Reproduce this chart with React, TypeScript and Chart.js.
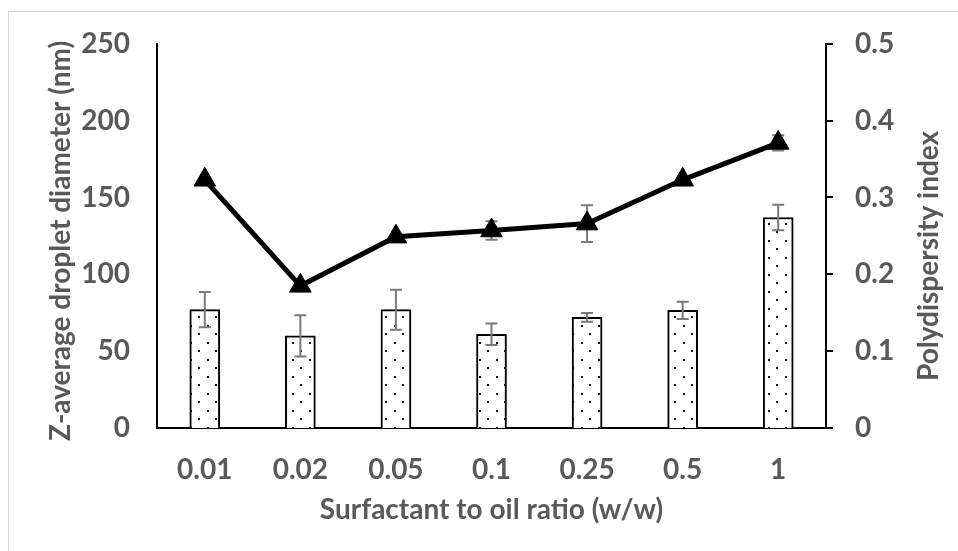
import React, { useEffect, useRef } from 'react';
import { Chart, registerables } from 'chart.js';

Chart.register(...registerables);

// ---- data ----
const categories = ['0.01', '0.02', '0.05', '0.1', '0.25', '0.5', '1'];
const dropletSize = [77, 60, 77, 61, 72, 76.5, 137];
const dropletSizeErr = [11.5, 13.4, 13, 7, 2.8, 5.6, 8.3];
const pdi = [0.323, 0.185, 0.249, 0.257, 0.266, 0.323, 0.371];
const pdiErr = [0, 0, 0, 0.012, 0.024, 0, 0.01];
const sizeAxisMax = 250;
const sizeAxisStep = 50;
const pdiAxisMax = 0.5;
const pdiAxisStep = 0.1;

const xTitle = 'Surfactant to oil ratio (w/w)';
const yTitle = 'Z-average droplet diameter (nm)';
const y1Title = 'Polydispersity index';

const TEXT_COLOR = '#595959';
const FONT_FAMILY = 'Lato';
const FONT_SIZE = 28;
const ERR_COLOR = '#7a7a7a';

function makeDotPattern(): CanvasPattern | string {
  const c = document.createElement('canvas');
  c.width = 17;
  c.height = 17;
  const g = c.getContext('2d');
  if (!g) return '#fff';
  g.fillStyle = '#ffffff';
  g.fillRect(0, 0, 17, 17);
  g.fillStyle = '#111111';
  g.fillRect(3, 2, 2, 2);
  g.fillRect(11, 10, 2, 2);
  const p = g.createPattern(c, 'repeat');
  return p || '#fff';
}

function drawErrors(chart: any, meta: any, values: number[], errs: number[], scaleId: string) {
  const ctx = chart.ctx;
  const scale = chart.scales[scaleId];
  ctx.save();
  ctx.strokeStyle = ERR_COLOR;
  ctx.lineWidth = 2;
  const cap = 6;
  meta.data.forEach((el: any, i: number) => {
    const e = errs[i];
    if (!e) return;
    const x = el.x;
    const yt = scale.getPixelForValue(values[i] + e);
    const yb = scale.getPixelForValue(values[i] - e);
    ctx.beginPath();
    ctx.moveTo(x, yt);
    ctx.lineTo(x, yb);
    ctx.moveTo(x - cap, yt);
    ctx.lineTo(x + cap, yt);
    ctx.moveTo(x - cap, yb);
    ctx.lineTo(x + cap, yb);
    ctx.stroke();
  });
  ctx.restore();
}

const errorBarPlugin = {
  id: 'errorBars',
  beforeDatasetDraw(chart: any, args: any) {
    if (args.index === 0) drawErrors(chart, args.meta, pdi, pdiErr, 'y1');
  },
  afterDatasetDraw(chart: any, args: any) {
    if (args.index === 1) drawErrors(chart, args.meta, dropletSize, dropletSizeErr, 'y');
  },
};

const titlePlugin = {
  id: 'axisTitles',
  afterDraw(chart: any) {
    const { ctx, chartArea } = chart;
    const { left, right, top, bottom } = chartArea;
    ctx.save();
    ctx.fillStyle = TEXT_COLOR;
    ctx.font = `bold ${FONT_SIZE}px ${FONT_FAMILY}`;
    ctx.textAlign = 'center';
    ctx.textBaseline = 'alphabetic';
    ctx.fillText(xTitle, (left + right) / 2, bottom + 91);

    const midY = (top + bottom) / 2;
    ctx.save();
    ctx.translate(left - 87, midY + 5);
    ctx.rotate(-Math.PI / 2);
    ctx.fillText(yTitle, 0, 0);
    ctx.restore();

    ctx.save();
    ctx.translate(right + 112, midY + 20);
    ctx.rotate(-Math.PI / 2);
    ctx.fillText(y1Title, 0, 0);
    ctx.restore();
    ctx.restore();
  },
};

export default function App() {
  const ref = useRef<HTMLCanvasElement | null>(null);

  useEffect(() => {
    if (!ref.current) return;
    const pattern = makeDotPattern();
    const font = { family: FONT_FAMILY, size: FONT_SIZE, weight: 'bold' as const };
    const chart = new Chart(ref.current, {
      type: 'bar',
      data: {
        labels: categories,
        datasets: [
          {
            type: 'line',
            label: 'Polydispersity index',
            data: pdi,
            yAxisID: 'y1',
            borderColor: '#000',
            borderWidth: 5,
            pointStyle: 'triangle',
            pointRadius: 12.5,
            pointHoverRadius: 12.5,
            pointBackgroundColor: '#000',
            pointBorderColor: '#000',
            pointBorderWidth: 1,
            tension: 0,
            order: 0,
          } as any,
          {
            type: 'bar',
            label: 'Z-average droplet diameter',
            data: dropletSize,
            yAxisID: 'y',
            backgroundColor: pattern as any,
            borderColor: '#000',
            borderWidth: 2,
            barThickness: 30,
            order: 1,
          } as any,
        ],
      },
      options: {
        animation: false,
        responsive: false,
        events: [],
        layout: { padding: { top: 43, left: 0, right: 0, bottom: 0 } },
        plugins: {
          legend: { display: false },
          tooltip: { enabled: false },
        },
        scales: {
          x: {
            grid: { display: false, drawTicks: false },
            border: { display: true, color: '#000', width: 2 },
            ticks: { color: TEXT_COLOR, font, padding: 25 },
            afterFit: (s: any) => {
              s.height = 123;
            },
          },
          y: {
            position: 'left',
            min: 0,
            max: sizeAxisMax,
            grid: { display: false, drawTicks: false },
            border: { display: true, color: '#000', width: 2 },
            ticks: { stepSize: sizeAxisStep, color: TEXT_COLOR, font, padding: 27 },
            afterFit: (s: any) => {
              s.width = 157;
            },
          },
          y1: {
            position: 'right',
            min: 0,
            max: pdiAxisMax,
            grid: {
              display: true,
              drawOnChartArea: false,
              drawTicks: true,
              tickLength: 7,
              color: '#000',
              lineWidth: 2,
            },
            border: { display: true, color: '#000', width: 2 },
            ticks: {
              stepSize: pdiAxisStep,
              color: TEXT_COLOR,
              font,
              padding: 22,
              callback: (v: any) => String(Math.round(Number(v) * 10) / 10),
            },
            afterFit: (s: any) => {
              s.width = 132;
            },
          },
        },
      },
      plugins: [errorBarPlugin, titlePlugin],
    });
    return () => chart.destroy();
  }, []);

  return (
    <div style={{ position: 'fixed', left: 0, top: 0, width: 958, height: 551, overflow: 'hidden', background: '#fff' }}>
      <div
        style={{
          position: 'absolute',
          left: 8,
          top: 11,
          width: 1000,
          height: 600,
          border: '1px solid #d9d9d9',
          boxSizing: 'border-box',
        }}
      />
      <canvas ref={ref} width={958} height={551} style={{ position: 'absolute', left: 0, top: 0, width: 958, height: 551 }} />
    </div>
  );
}
